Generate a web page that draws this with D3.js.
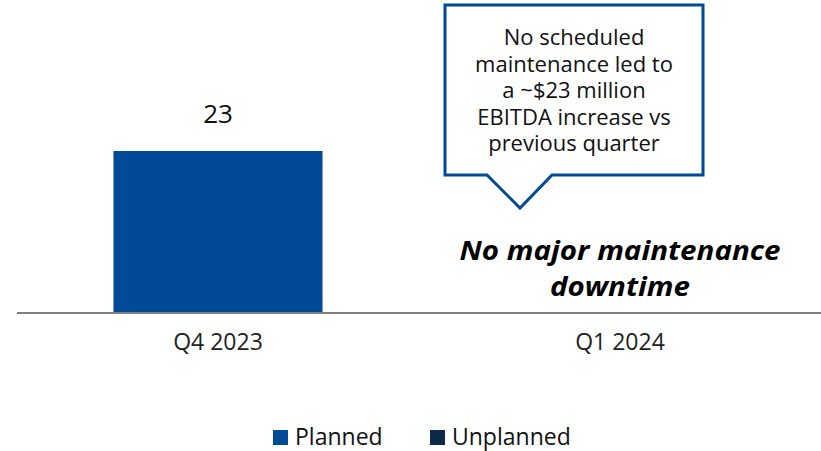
<!DOCTYPE html>
<html>
<head>
<meta charset="utf-8">
<script src="https://cdn.jsdelivr.net/npm/d3@7"></script>
<style>
  body { margin: 0; background: #fff; }
  svg { display: block; font-family: "Open Sans", "Noto Sans", sans-serif; }
</style>
</head>
<body>
<div id="chart"></div>
<script>
// data
const categories = ['Q4 2023', 'Q1 2024'];
const planned = [23, 0];
const unplanned = [0, 0];
const seriesNames = ['Planned', 'Unplanned'];
const seriesColors = ['#004a97', '#0a2a45'];
const calloutLines = ['No scheduled', 'maintenance led to', 'a ~$23 million', 'EBITDA increase vs', 'previous quarter'];
const noteLines = ['No major maintenance', 'downtime'];

const width = 821, height = 451;
const svg = d3.select('#chart').append('svg')
    .attr('width', width)
    .attr('height', height);

const x = d3.scaleBand()
    .domain(categories)
    .range([17, 821])
    .paddingInner(0.48)
    .paddingOuter(0.24);

const baseY = 313;
const y = d3.scaleLinear()
    .domain([0, 23])
    .range([baseY, 151]);

// stack planned + unplanned
const rows = categories.map((c, i) => ({ cat: c, Planned: planned[i], Unplanned: unplanned[i] }));
const stacked = d3.stack().keys(seriesNames)(rows);

svg.selectAll('.series')
    .data(stacked)
    .enter()
    .append('g')
    .attr('fill', (d, i) => seriesColors[i])
    .selectAll('rect')
    .data(d => d.filter(p => p[1] - p[0] > 0))
    .enter()
    .append('rect')
    .attr('x', d => x(d.data.cat))
    .attr('width', x.bandwidth())
    .attr('y', d => y(d[1]))
    .attr('height', d => y(d[0]) - y(d[1]));

// value labels
svg.selectAll('.val')
    .data(rows.filter(r => r.Planned + r.Unplanned > 0))
    .enter()
    .append('text')
    .attr('x', d => x(d.cat) + x.bandwidth() / 2)
    .attr('y', d => y(d.Planned + d.Unplanned) - 28)
    .attr('text-anchor', 'middle')
    .attr('font-size', 26)
    .attr('fill', '#111')
    .text(d => d.Planned + d.Unplanned);

// axis
const xAxis = svg.append('g')
    .attr('transform', `translate(0,${baseY})`)
    .call(d3.axisBottom(x).tickSize(0).tickPadding(21));
xAxis.select('.domain').attr('stroke', '#7f7f7f').attr('stroke-width', 2)
    .attr('d', 'M17,0H821');
xAxis.selectAll('text')
    .attr('font-size', 23)
    .attr('font-family', '"Open Sans", "Noto Sans", sans-serif')
    .attr('fill', '#222');

// note for Q1 2024
const cx2 = x('Q1 2024') + x.bandwidth() / 2;
const noteWidths = [321, 140];
svg.append('text')
    .attr('text-anchor', 'middle')
    .attr('font-size', 27)
    .attr('font-weight', 'bold')
    .attr('font-style', 'italic')
    .attr('fill', '#000')
    .selectAll('tspan')
    .data(noteLines)
    .enter()
    .append('tspan')
    .attr('x', cx2)
    .attr('y', (d, i) => 260 + i * 36)
    .attr('textLength', (d, i) => noteWidths[i])
    .attr('lengthAdjust', 'spacingAndGlyphs')
    .text(d => d);

// callout
const bx0 = 445, bx1 = 703, by0 = 5, by1 = 175;
const tipX = 520, tipY = 208;
svg.append('path')
    .attr('d', `M${bx0},${by0}H${bx1}V${by1}H552L${tipX},${tipY}L487,${by1}H${bx0}Z`)
    .attr('fill', '#fff')
    .attr('stroke', '#004a97')
    .attr('stroke-width', 3)
    .attr('stroke-linejoin', 'miter');

svg.append('text')
    .attr('text-anchor', 'middle')
    .attr('font-size', 22)
    .attr('fill', '#111')
    .selectAll('tspan')
    .data(calloutLines)
    .enter()
    .append('tspan')
    .attr('x', (bx0 + bx1) / 2)
    .attr('y', (d, i) => 45 + i * 26.6)
    .text(d => d);

// legend
const legend = svg.append('g');
const legX = [273, 430];
seriesNames.forEach((name, i) => {
    legend.append('rect')
        .attr('x', legX[i])
        .attr('y', 430)
        .attr('width', 15)
        .attr('height', 15)
        .attr('fill', seriesColors[i]);
    legend.append('text')
        .attr('x', legX[i] + 22)
        .attr('y', 445)
        .attr('font-size', 23)
        .attr('fill', '#111')
        .text(name);
});
</script>
</body>
</html>
